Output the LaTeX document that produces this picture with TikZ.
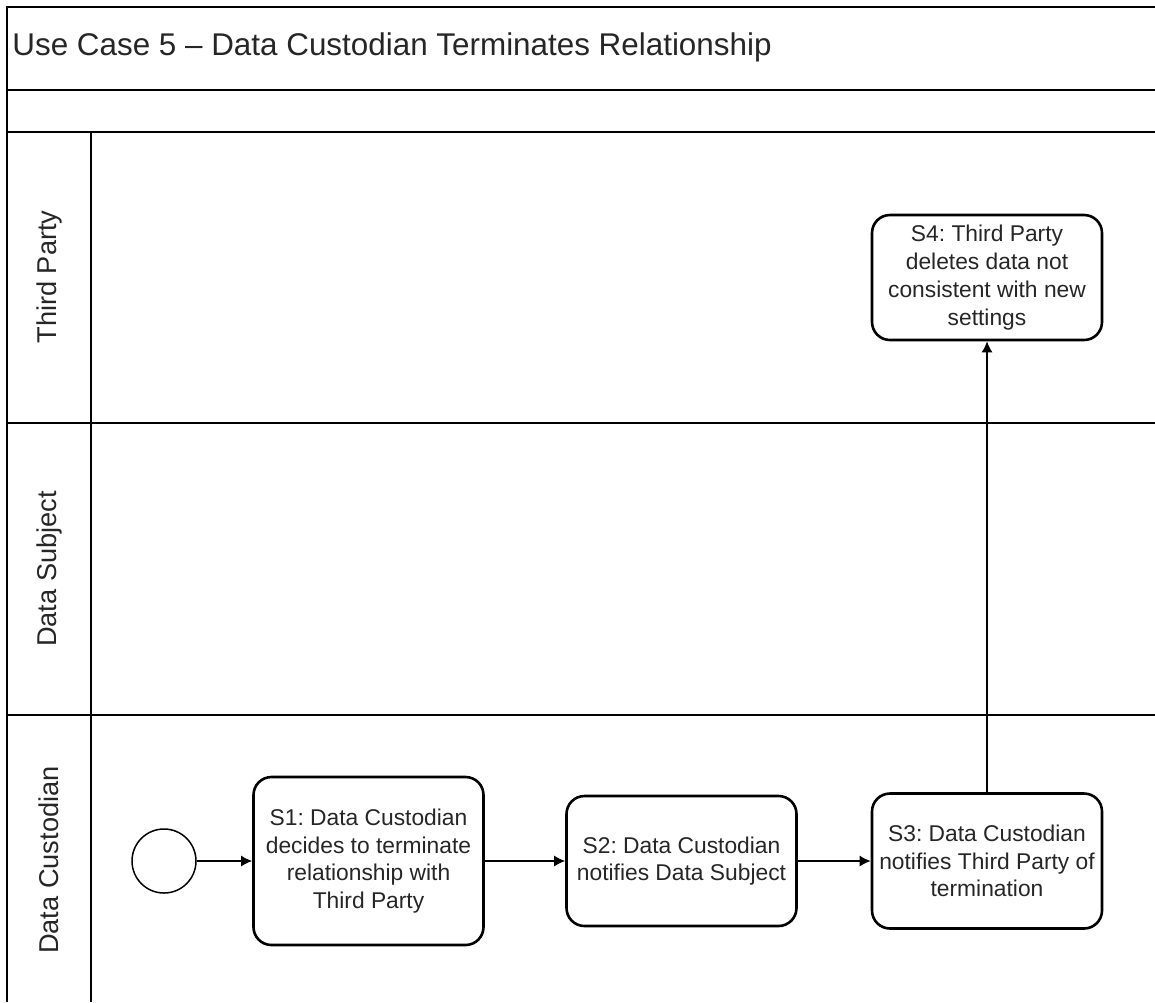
\documentclass[tikz,border=0pt]{standalone}
\usepackage{fontspec}
\setmainfont{Liberation Sans}
\usetikzlibrary{arrows.meta}
\frenchspacing

\tikzset{
    frame/.style={line width=0.75pt},
    flow/.style={frame, -{Latex[length=5.5pt,width=5.5pt]}},
    task/.style={draw, line width=1.3pt, rounded corners=9pt, align=center, text=black!85,
        minimum width=115pt, inner sep=1pt, font=\fontsize{11.4}{13.9}\selectfont},
    lane/.style={rotate=90, text=black!85, font=\fontsize{13.6}{16}\selectfont},
}

\begin{document}
\begin{tikzpicture}[x=0.5pt,y=-0.5pt]
        \useasboundingbox (0,0) rectangle (1155,1002);
        % pool and lanes
        \draw[frame] (7,1002) -- (7,7) -- (1155,7);
        \foreach \y in {90,132,423,715} \draw[frame] (7,\y) -- (1155,\y);
        \draw[frame] (91,132) -- (91,1002);
        \node[anchor=base west, inner sep=0pt, text=black!85, font=\fontsize{15.7}{18}\selectfont] (title) at (12,55) {Use Case 5 -- Data Custodian Terminates Relationship};
        \node[lane] (party) at (49,277) {Third Party};
        \node[lane] (subject) at (49,569) {Data Subject};
        \node[lane] (custodian) at (49,860) {Data Custodian};
        % steps
        \node[draw, circle, frame, minimum size=32pt, inner sep=0pt] (start) at (164,861) {};
        \node[task, minimum height=84pt] (s1) at (368.5,861) {S1: Data Custodian\\decides to terminate\\relationship with\\Third Party};
        \node[task, minimum height=65pt] (s2) at (681.5,861) {S2: Data Custodian\\notifies Data Subject};
        \node[task, minimum height=67.5pt] (s3) at (987,861) {S3: Data Custodian\\notifies Third Party of\\termination};
        \node[task, minimum height=62.5pt] (s4) at (987,277.5) {S4: Third Party\\deletes data not\\consistent with new\\settings};
        \draw[flow] (start) -- (s1);
        \draw[flow] (s1) -- (s2);
        \draw[flow] (s2) -- (s3);
        \draw[flow] (s3) -- (s4);
    \end{tikzpicture}
\end{document}
